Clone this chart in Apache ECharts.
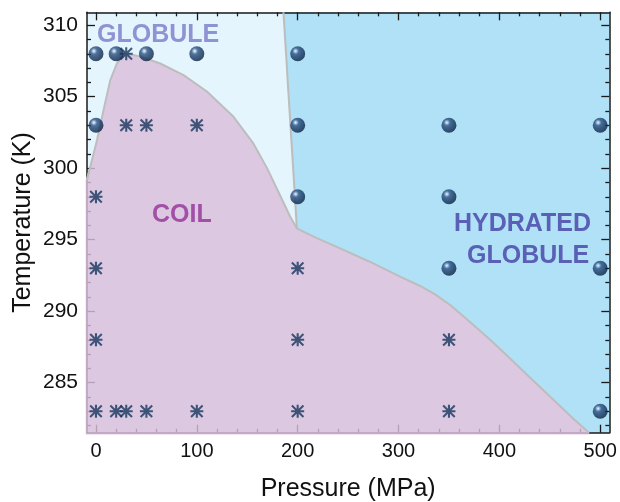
<!DOCTYPE html>
<html>
<head>
<meta charset="utf-8">
<script src="https://cdn.jsdelivr.net/npm/echarts@6/dist/echarts.min.js"></script>
<style>
html,body{margin:0;padding:0;background:#fff;}
#chart{width:620px;height:502px;}
</style>
</head>
<body>
<div id="chart"></div>
<script>
// ---- axis ranges & ticks ----
const xMin = -8.9, xMax = 509;
const yMin = 281.5, yMax = 310.9;
const pressureTicks = [0, 100, 200, 300, 400, 500];
const pressureMinorTicks = [20, 40, 60, 80, 120, 140, 160, 180, 220, 240, 260, 280, 320, 340, 360, 380, 420, 440, 460, 480];
const tempTicks = [285, 290, 295, 300, 305, 310];
const tempMinorTicks = [282, 283, 284, 286, 287, 288, 289, 291, 292, 293, 294, 296, 297, 298, 299, 301, 302, 303, 304, 306, 307, 308, 309];

// ---- measured points ----
// globule (spheres)
const sphereP = [0, 20, 50, 100, 200, 0, 200, 350, 500, 200, 350, 350, 500, 500];
const sphereT = [308, 308, 308, 308, 308, 303, 303, 303, 303, 298, 298, 293, 293, 283];
// coil (asterisks)
const starP = [30, 30, 50, 100, 0, 0, 200, 0, 200, 350, 0, 20, 30, 50, 100, 200, 350];
const starT = [308, 303, 303, 303, 298, 293, 293, 288, 288, 288, 283, 283, 283, 283, 283, 283, 283];

// ---- phase boundaries ----
const coilBoundaryP = [-8.9, 1.0, 7.5, 14.2, 20.8, 29.0, 43.9, 63.7, 86.8, 110.0, 136.4, 156.2, 169.5, 182.7, 192.6, 199.2, 215.7, 245.4, 271.9, 301.6, 321.4, 336.3, 351.2, 368.0, 387.8, 400.7, 417.6, 433.4, 453.3, 473.1, 489];
const coilBoundaryT = [299.17, 301.96, 304.06, 306.16, 307.32, 308.02, 307.81, 307.32, 306.51, 305.36, 303.59, 301.71, 300.02, 298.07, 296.6, 295.79, 295.21, 294.28, 293.44, 292.42, 291.76, 291.17, 290.43, 289.42, 288.2, 287.36, 286.22, 285.15, 283.82, 282.49, 281.5];
const hydrationLineP = [185.9, 199.2];
const hydrationLineT = [310.9, 295.79];

// ---- colours ----
const cGlobule = '#e5f5fd';
const cHydrated = '#b0e1f6';
const cCoil = 'rgba(218,190,220,0.82)';
const cBoundary = '#bdbdbd';

const zip = (a, b) => a.map((v, i) => [v, b[i]]);
const coilCurve = zip(coilBoundaryP, coilBoundaryT);
const hydLine = zip(hydrationLineP, hydrationLineT);

// region outlines built from the boundaries and axis limits
const globuleRegion = [[xMin, yMin], [xMax, yMin], [xMax, yMax], [xMin, yMax]];
const junction = coilCurve.findIndex(p => p[0] === hydrationLineP[1]);
const hydratedRegion = [hydLine[0]].concat(coilCurve.slice(junction), [[xMax, yMin], [xMax, yMax]]);
const padX = 1.3, padY = 0.12;
const coilRegion = [[xMin - padX, coilBoundaryT[0]]].concat(coilCurve.slice(1), [[coilBoundaryP[coilBoundaryP.length - 1], yMin - padY], [xMin - padX, yMin - padY]]);

function regionSeries(points, fill, z) {
  return {
    type: 'custom', silent: true, z: z, clip: false,
    data: [0],
    renderItem: function (params, api) {
      return {
        type: 'polygon',
        shape: { points: points.map(p => api.coord(p)) },
        style: { fill: fill, stroke: null }
      };
    }
  };
}

const FONT = '"Liberation Sans", Arial, Helvetica, sans-serif';
const axisColor = '#1a1a1a';

function xAxisDef(pos, ticks, len, withLabels, withLine) {
  return {
    type: 'value', gridIndex: 0, position: pos, min: xMin, max: xMax, z: 3,
    axisLine: { show: withLine, onZero: false, lineStyle: { color: axisColor, width: 1.5 } },
    axisTick: { show: true, inside: true, length: len, customValues: ticks, lineStyle: { color: axisColor, width: 1.3 } },
    axisLabel: withLabels ? { show: true, customValues: ticks, margin: 9, fontSize: 20, color: '#111', fontFamily: FONT } : { show: false },
    splitLine: { show: false },
    name: withLabels ? 'Pressure (MPa)' : '',
    nameLocation: 'middle', nameGap: 44, nameMoveOverlap: false,
    nameTextStyle: { fontSize: 25, color: '#111', fontFamily: FONT }
  };
}
function yAxisDef(pos, ticks, len, withLabels, withLine) {
  return {
    type: 'value', gridIndex: 0, position: pos, min: yMin, max: yMax, z: 3,
    axisLine: { show: withLine, onZero: false, lineStyle: { color: axisColor, width: 1.5 } },
    axisTick: { show: true, inside: true, length: len, customValues: ticks, lineStyle: { color: axisColor, width: 1.3 } },
    axisLabel: withLabels ? { show: true, customValues: ticks, margin: 9, fontSize: 21, color: '#111', fontFamily: FONT } : { show: false },
    splitLine: { show: false },
    name: withLabels ? 'Temperature (K)' : '',
    nameLocation: 'middle', nameGap: 51, nameRotate: 90, nameMoveOverlap: false,
    nameTextStyle: { fontSize: 25, color: '#111', fontFamily: FONT }
  };
}

const sphereColor = new echarts.graphic.RadialGradient(0.36, 0.32, 0.7, [
  { offset: 0, color: '#ffffff' },
  { offset: 0.12, color: '#a3bad5' },
  { offset: 0.3, color: '#2c5284' },
  { offset: 0.62, color: '#163865' },
  { offset: 1, color: '#0b1f3c' }
]);
const starPath = 'path://M42 0L58 0L58 100L42 100Z M0 42L100 42L100 58L0 58Z M0 11L11 0L100 89L89 100Z M89 0L100 11L11 100L0 89Z';

const chart = echarts.init(document.getElementById('chart'), null, { renderer: 'canvas' });
chart.setOption({
  animation: false,
  backgroundColor: '#ffffff',
  grid: { left: 87, right: 10.7, top: 12.3, bottom: 69.3, containLabel: false, outerBoundsMode: 'none' },
  xAxis: [
    xAxisDef('bottom', pressureTicks, 8, true, true),
    xAxisDef('bottom', pressureMinorTicks, 4, false, false),
    xAxisDef('top', pressureTicks, 8, false, true),
    xAxisDef('top', pressureMinorTicks, 4, false, false)
  ],
  yAxis: [
    yAxisDef('left', tempTicks, 8, true, true),
    yAxisDef('left', tempMinorTicks, 4, false, false),
    yAxisDef('right', tempTicks, 8, false, true),
    yAxisDef('right', tempMinorTicks, 4, false, false)
  ],
  series: [
    regionSeries(globuleRegion, cGlobule, 1),
    regionSeries(hydratedRegion, cHydrated, 2),
    regionSeries(coilRegion, cCoil, 4),
    {
      type: 'line', data: coilCurve, showSymbol: false, symbol: 'none', z: 5, silent: true,
      lineStyle: { color: cBoundary, width: 2 }
    },
    {
      type: 'line', data: hydLine, showSymbol: false, symbol: 'none', z: 5, silent: true,
      lineStyle: { color: cBoundary, width: 2 }
    },
    {
      type: 'scatter', data: zip(sphereP, sphereT), symbol: 'circle', symbolSize: 15, z: 6,
      itemStyle: { color: sphereColor }
    },
    {
      type: 'scatter', data: zip(starP, starT), symbol: starPath, symbolSize: 13, z: 6,
      itemStyle: { color: '#17365e' }
    }
  ],
  graphic: [
    { type: 'text', z: 10, left: 97, top: 23, style: { text: 'GLOBULE', font: 'bold 25px ' + FONT, fill: '#9093d3' } },
    { type: 'text', z: 10, left: 152, top: 203, style: { text: 'COIL', font: 'bold 25px ' + FONT, fill: '#a24fa7' } },
    { type: 'text', z: 10, left: 454, top: 212, style: { text: 'HYDRATED', font: 'bold 25px ' + FONT, fill: '#5960b5' } },
    { type: 'text', z: 10, left: 467, top: 244, style: { text: 'GLOBULE', font: 'bold 25px ' + FONT, fill: '#5960b5' } }
  ]
});
</script>
</body>
</html>
